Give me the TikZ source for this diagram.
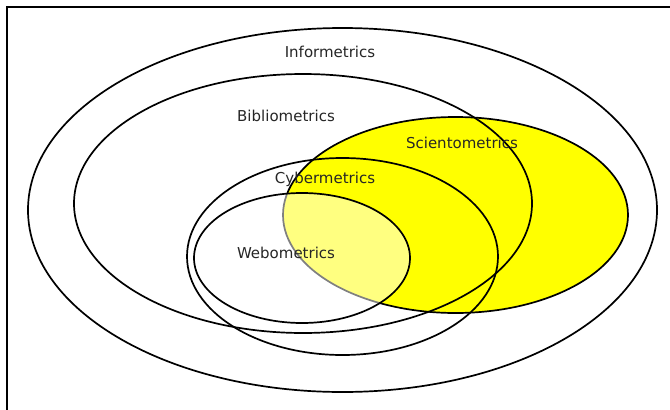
\documentclass[tikz,border=0pt]{standalone}
\usepackage{fontspec}
\setmainfont{DejaVu Sans}
\usetikzlibrary{shapes.geometric}
\definecolor{scyellow}{RGB}{255,255,0}
\begin{document}
\begin{tikzpicture}[x=1pt,y=-1pt,
  setoval/.style={ellipse, draw=black, line width=1.7pt, inner sep=0pt, outer sep=0pt},
  lbl/.style={font=\fontsize{15}{17}\selectfont, text=black!85, inner sep=0pt}]
\useasboundingbox (0,0) rectangle (670,410);
\fill[white] (0,0) rectangle (670,410);
\coordinate (fb) at (7,411);
\coordinate (fc) at (7,7);
\coordinate (fr) at (671,7);
\draw[line width=2.2pt] (fb) -- (fc) -- (fr);
\node[setoval, minimum width=629pt, minimum height=364pt] (info) at (342.5,210) {};
\node[setoval, fill=scyellow, minimum width=345pt, minimum height=196pt] (scient) at (455.5,215) {};
\node[setoval, minimum width=458pt, minimum height=259pt] (biblio) at (303,203.5) {};
\node[setoval, minimum width=311pt, minimum height=197pt] (cyber) at (342.5,256.5) {};
\node[setoval, fill=white, fill opacity=0.5, minimum width=216pt, minimum height=130pt] (webo) at (302,258) {};
\node[lbl] (linfo) at (330,52) {Informetrics};
\node[lbl] (lbiblio) at (286,116) {Bibliometrics};
\node[lbl] (lscient) at (462,143) {Scientometrics};
\node[lbl] (lcyber) at (325,179) {Cybermetrics};
\node[lbl] (lwebo) at (286,253) {Webometrics};
\end{tikzpicture}
\end{document}
